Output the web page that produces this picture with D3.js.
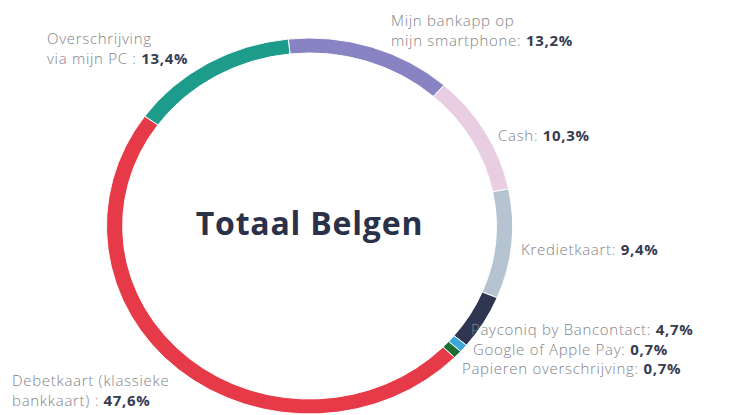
<!DOCTYPE html>
<html><head><meta charset="utf-8">
<script src="https://cdn.jsdelivr.net/npm/d3@7"></script>
<style>
html,body{margin:0;padding:0;background:#fff;}
svg{display:block;}
</style></head>
<body>
<svg id="chart" width="738" height="415"></svg>
<script>
// ---- data ----
const categories = ["Mijn bankapp op mijn smartphone", "Cash", "Kredietkaart", "Payconiq by Bancontact",
  "Google of Apple Pay", "Papieren overschrijving", "Debetkaart (klassieke bankkaart)", "Overschrijving via mijn PC"];
const values = [13.2, 10.3, 9.4, 4.7, 0.7, 0.7, 47.6, 13.4];
const labelLines = [
  ["Mijn bankapp op", "mijn smartphone: "],
  ["Cash: "],
  ["Kredietkaart: "],
  ["Payconiq by Bancontact: "],
  ["Google of Apple Pay: "],
  ["Papieren overschrijving: "],
  ["Debetkaart (klassieke", "bankkaart) : "],
  ["Overschrijving", "via mijn PC : "]
];
const colors = ["#8884c4", "#e9cde3", "#b5c4d0", "#2f3651", "#3ba8dd", "#1c6e35", "#e63a48", "#1e9c8b"];
const centerTitle = "Totaal Belgen";

// ---- layout ----
const W = 738, H = 415;
const cx = 309.5, cy = 226, rOuter = 188, rInner = 173, xStretch = 1.08;
const startDeg = -6;
const labelPos = [[391, 25.5], [498, 141], [521, 255], [471, 335], [473, 355], [462, 374], [12, 385.5], [47, 43.5]];
const lineH = 20.5;

const svg = d3.select("#chart");
const fmt = d3.formatLocale({decimal: ",", thousands: ".", grouping: [3], currency: ["", "€"]}).format(".1f");

const pie = d3.pie().sort(null).value(d => d)
  .startAngle(startDeg * Math.PI / 180).endAngle(startDeg * Math.PI / 180 + 2 * Math.PI);
const arc = d3.arc().innerRadius(rInner).outerRadius(rOuter);

const g = svg.append("g").attr("transform", `translate(${cx},${cy}) scale(${xStretch},1)`);
g.selectAll("path").data(pie(values)).join("path")
  .attr("d", arc)
  .attr("fill", (d, i) => colors[i])
  .attr("stroke", "#fff")
  .attr("stroke-width", 1)
  .attr("vector-effect", "non-scaling-stroke");

svg.append("text")
  .attr("x", cx).attr("y", 235)
  .attr("text-anchor", "middle")
  .attr("font-family", "'Open Sans', Lato, sans-serif")
  .attr("font-weight", 700)
  .attr("font-size", 32)
  .attr("letter-spacing", 0.8)
  .attr("fill", "#2b3148")
  .text(centerTitle);

const labels = svg.append("g").attr("font-family", "'Open Sans', Lato, sans-serif")
  .attr("font-size", 15).attr("letter-spacing", 0.7);
categories.forEach((c, i) => {
  const [x, y] = labelPos[i];
  const t = labels.append("text").attr("x", x).attr("y", y);
  const lines = labelLines[i];
  lines.forEach((ln, j) => {
    const ts = t.append("tspan").attr("fill", "#818389").attr("font-weight", 300).text(ln);
    if (j > 0) ts.attr("x", x).attr("dy", lineH);
  });
  t.append("tspan").attr("fill", "#363c50").attr("font-weight", 700).text(fmt(values[i]) + "%");
});
</script>
</body></html>
